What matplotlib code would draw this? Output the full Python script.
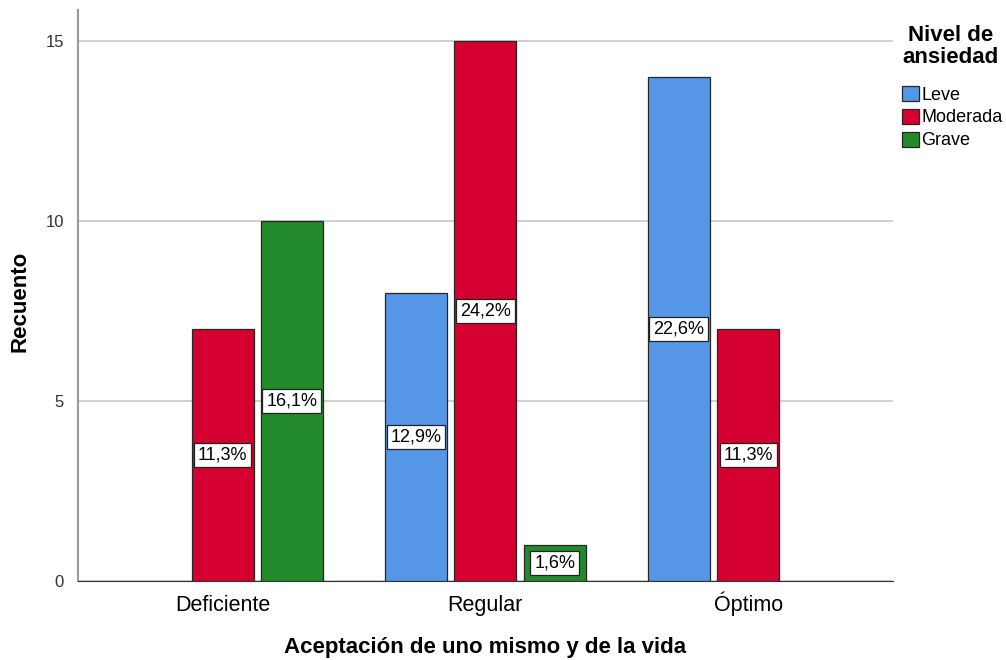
import matplotlib.pyplot as plt
import numpy as np

plt.rcParams["font.family"] = ["Liberation Sans", "DejaVu Sans"]

categories = ["Deficiente", "Regular", "Óptimo"]
series = ["Leve", "Moderada", "Grave"]
counts = {
    "Leve": [0, 8, 14],
    "Moderada": [7, 15, 7],
    "Grave": [10, 1, 0],
}
pct_labels = {
    "Leve": [None, "12,9%", "22,6%"],
    "Moderada": ["11,3%", "24,2%", "11,3%"],
    "Grave": ["16,1%", "1,6%", None],
}
colors = {"Leve": "#5597e6", "Moderada": "#d5002f", "Grave": "#238a2c"}

fig = plt.figure(figsize=(10.06, 6.6), dpi=100)
ax = fig.add_axes([0.0775, 0.1197, 0.81, 0.865])

x = np.arange(len(categories))
width = 0.236
offsets = [-0.264, 0.0, 0.264]

for s, off in zip(series, offsets):
    for xi, v, lab in zip(x, counts[s], pct_labels[s]):
        if v == 0:
            continue
        ax.bar(xi + off, v, width, color=colors[s], edgecolor="#262626", linewidth=0.9, zorder=3)
        if lab:
            ax.text(xi + off, v / 2, lab, ha="center", va="center", fontsize=13, zorder=4,
                    bbox=dict(boxstyle="square,pad=0.22", facecolor="white", edgecolor="#222222", linewidth=0.9))

ax.set_xlim(-0.55, 2.55)
ax.set_ylim(0, 15.86)
ax.set_yticks([0, 5, 10, 15])
ax.yaxis.grid(True, color="#c8c8c8", linewidth=1.2, zorder=0)
ax.set_axisbelow(True)
ax.set_xticks(x, categories, fontsize=15.5)
for lbl in ax.get_xticklabels():
    lbl.set_verticalalignment("baseline")
ax.tick_params(axis="x", length=0, pad=21.6)
ax.tick_params(axis="y", labelsize=12, length=0, pad=10, labelcolor="#333333")

for side in ["top", "right"]:
    ax.spines[side].set_visible(False)
ax.spines["left"].set_color("#999999")
ax.spines["left"].set_linewidth(1.5)
ax.spines["bottom"].set_color("#333333")

ax.set_xlabel("Aceptación de uno mismo y de la vida", fontsize=16, fontweight="bold", va="center")
ax.xaxis.set_label_coords(0.5, -0.117)
ax.set_ylabel("Recuento", fontsize=16, fontweight="bold", va="center")
ax.yaxis.set_label_coords(-0.071, 0.49)

# legend title drawn separately so it can be centred over the entries
fig.text(0.945, 0.930, "Nivel de\nansiedad", ha="center", va="center", multialignment="center",
         fontsize=16, fontweight="bold", linespacing=1.05)
handles = [plt.Rectangle((0, 0), 1, 1, facecolor=colors[s], edgecolor="#262626", linewidth=0.9) for s in series]
fig.legend(handles, series, loc="upper left", bbox_to_anchor=(0.897, 1 - 86 / 660),
           frameon=False, fontsize=13, handlelength=0.9, handleheight=0.9,
           handletextpad=0.15, labelspacing=0.28, borderpad=0, borderaxespad=0)

fig.savefig("out.png", dpi=100)
